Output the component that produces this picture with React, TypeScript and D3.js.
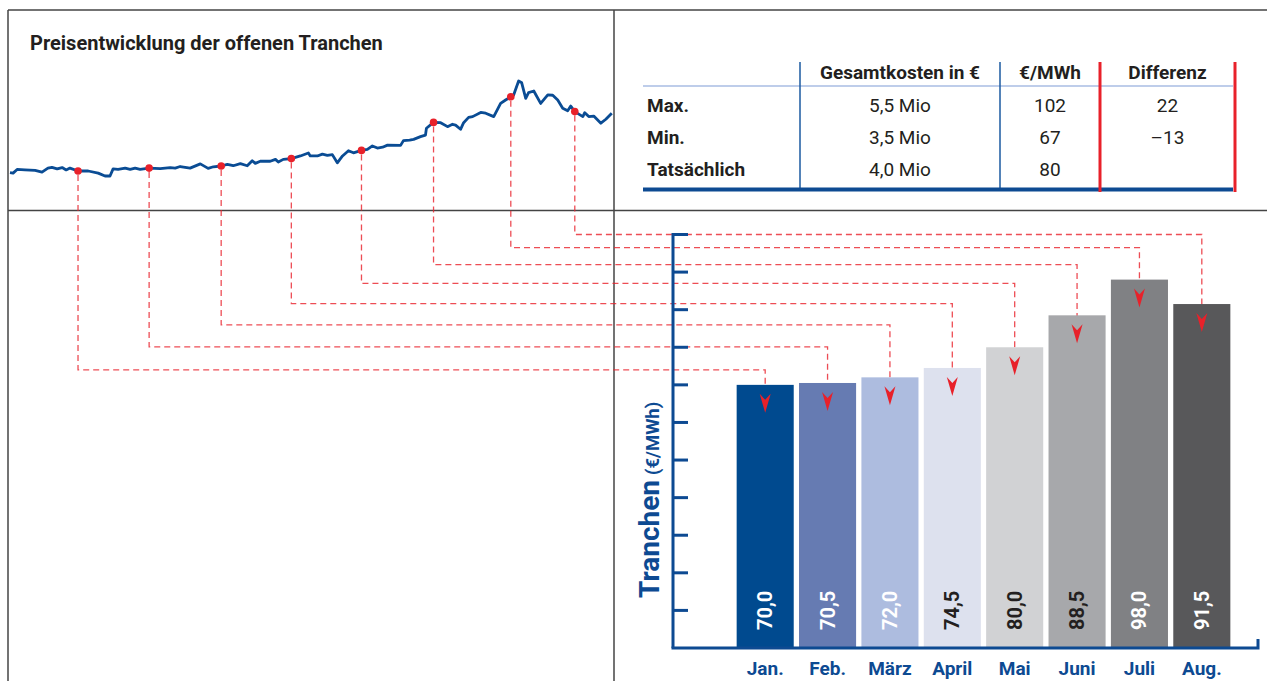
import * as d3 from 'd3';

const WIDTH = 1267;
const HEIGHT = 681;

// bar chart data
const MONTHS = ['Jan.', 'Feb.', 'März', 'April', 'Mai', 'Juni', 'Juli', 'Aug.'];
const TRANCHE_VALUES = [70.0, 70.5, 72.0, 74.5, 80.0, 88.5, 98.0, 91.5];
const Y_TICKS = [10, 20, 30, 40, 50, 60, 70, 80, 90, 100, 110];

// price curve (day, €/MWh)
const PRICE_DAYS = [
  0, 1.3, 3, 6.3, 10.6, 13.5, 16, 17.7, 19.9, 22, 23.7, 25.3, 28.7, 33, 37.2, 40.1, 42.2, 43.5, 45.6, 48.6,
  50.7, 52.8, 54.9, 58.7, 63.4, 67.6, 69.7, 71.8, 76, 80.3, 83.6, 85.8, 89.1, 91.7, 94.2, 97.2, 100.1, 102.2,
  103.5, 105.6, 109.8, 112, 113.2, 115.3, 118.7, 122.5, 125.9, 126.7, 129.7, 131.8, 133.9, 136, 138.1, 140.3,
  142.8, 144.9, 148.3, 150.8, 152.9, 155, 157.2, 159.3, 164.8, 166, 168.6, 170.3, 173.2, 175.3, 175.7, 178.7,
  181.7, 184.6, 186.7, 188, 190.1, 191.4, 193.5, 195.2, 198.6, 200.7, 204.1, 207, 209.1, 211.3, 212.5, 214.6,
  215.9, 217.6, 218.8, 221, 223.9, 226.9, 229, 231.1, 233.2, 235.3, 236.6, 238.3, 241.7, 242.5, 244.2, 246.3,
  249.3, 251.4, 253.9,
];
const PRICE_VALUES = [
  69.4, 69.2, 70.6, 70.4, 70.2, 69.6, 71.1, 71.4, 70.8, 71.3, 70.4, 71.1, 70.0, 70.0, 69.2, 68.1, 68.1, 70.8, 70.6, 71.1,
  70.6, 71.1, 70.6, 71.1, 70.9, 71.3, 71.1, 71.7, 71.1, 72.7, 71.0, 71.6, 71.9, 72.5, 72.0, 72.8, 72.0, 73.9,
  72.9, 73.7, 73.7, 74.4, 73.4, 74.4, 74.7, 75.7, 76.8, 75.7, 75.7, 76.4, 75.9, 76.2, 73.1, 75.7,
  77.7, 76.9, 77.8, 78.2, 79.5, 78.7, 79.0, 79.8, 79.7, 81.5, 81.7, 82.0, 83.0, 83.6, 86.2, 88.4,
  88.3, 86.8, 87.7, 87.4, 85.8, 88.3, 90.3, 90.6, 92.2, 91.9, 90.6, 95.6, 96.9, 98.1, 98.8, 104.1,
  103.4, 97.5, 99.7, 100.3, 95.6, 98.8, 98.7, 96.9, 93.8, 92.8, 94.6, 92.5, 90.6, 92.1, 90.6, 90.8,
  88.1, 89.6, 91.9,
];
const DOT_DAYS = [28.7, 58.7, 89.1, 118.7, 148.3, 178.7, 211.3, 238.3];
const DOT_PRICES = [70.0, 71.1, 71.9, 74.7, 77.8, 88.4, 98.1, 92.5];

// table
const TABLE_COLUMNS = ['Gesamtkosten in €', '€/MWh', 'Differenz'];
const TABLE_ROWS = ['Max.', 'Min.', 'Tatsächlich'];
const TABLE_COSTS = ['5,5 Mio', '3,5 Mio', '4,0 Mio'];
const TABLE_PRICES = ['102', '67', '80'];
const TABLE_DIFFS = ['22', '–13', ''];

const BAR_COLORS = ['#004a8f', '#667bb2', '#adbcdf', '#dde1ee', '#d1d2d4', '#a7a8ab', '#808184', '#58585a'];
const LABEL_COLORS = ['#ffffff', '#ffffff', '#ffffff', '#231f20', '#231f20', '#231f20', '#ffffff', '#ffffff'];

const BLUE = '#0d4a92';
const RED = '#e8212a';
const FRAME = '#444';
const TEXT = '#231f20';
const FONT = "Roboto, 'Noto Sans', sans-serif";

const fmt = (v: number) => d3.format('.1f')(v).replace('.', ',');

export default function App() {
  // line chart scales
  const xLine = d3.scaleLinear().domain([0, 254]).range([10, 612]);
  const yLine = d3.scaleLinear().domain([70, 100]).range([171, 91.8]);
  const pricePts = PRICE_DAYS.map((d, i) => [d, PRICE_VALUES[i]] as [number, number]);
  const linePath =
    d3
      .line<[number, number]>()
      .x((d) => xLine(d[0]))
      .y((d) => yLine(d[1]))(pricePts) ?? '';

  // bar chart scales
  const xBar = d3.scaleBand<string>().domain(MONTHS).range([734, 1233]).paddingInner(0.085).paddingOuter(0.0425);
  const yBar = d3.scaleLinear().domain([0, 110]).range([648, 234.5]);
  const axisX = 673;
  const axisRight = 1258;
  const barCenter = (m: string) => (xBar(m) ?? 0) + xBar.bandwidth() / 2;

  // connector levels: Aug at the top of the axis, Jan lowest
  const levelScale = d3.scalePow().exponent(1.2).domain([0, 7]).range([yBar(110), yBar(74)]);
  const arrowTip = (i: number) => yBar(TRANCHE_VALUES[i]) + 28;

  // table layout
  const colEdges = [800, 1000, 1100, 1235];
  const colCenter = (i: number) => (colEdges[i] + colEdges[i + 1]) / 2;
  const rowY = d3.scaleBand<string>().domain(TABLE_ROWS).range([90, 186]);

  return (
    <svg
      width={WIDTH}
      height={HEIGHT}
      viewBox={`0 0 ${WIDTH} ${HEIGHT}`}
      style={{ position: 'absolute', left: 0, top: 0, background: '#fff' }}
      fontFamily={FONT}
    >
      {/* Frame */}
      <line x1={8} y1={10} x2={WIDTH} y2={10} stroke={FRAME} strokeWidth={1.5} />
      <line x1={8} y1={10} x2={8} y2={HEIGHT} stroke={FRAME} strokeWidth={1.5} />
      <line x1={614} y1={10} x2={614} y2={HEIGHT} stroke={FRAME} strokeWidth={1.5} />
      <line x1={8} y1={210.5} x2={WIDTH} y2={210.5} stroke={FRAME} strokeWidth={1.5} />

      {/* Title */}
      <text x={30} y={50} fontSize={20} fontWeight={700} fill={TEXT}>
        Preisentwicklung der offenen Tranchen
      </text>

      {/* Price line */}
      <path d={linePath} fill="none" stroke="#0a4c94" strokeWidth={2.8} strokeLinejoin="round" />

      {/* Connector dashes: down from dot, across, down to bar */}
      {MONTHS.map((m, i) => {
        const dx = xLine(DOT_DAYS[i]);
        const dy = yLine(DOT_PRICES[i]);
        const level = levelScale(7 - i);
        return (
          <path
            key={m}
            d={`M${dx},${dy + 4}V${level}H${barCenter(m)}V${arrowTip(i) - 13}`}
            fill="none"
            stroke={RED}
            strokeOpacity={0.8}
            strokeWidth={1.3}
            strokeDasharray="6 4"
          />
        );
      })}

      {/* Dots */}
      {DOT_DAYS.map((d, i) => (
        <circle key={i} cx={xLine(d)} cy={yLine(DOT_PRICES[i])} r={3.8} fill={RED} />
      ))}

      {/* Table */}
      <line x1={643} y1={86} x2={1233} y2={86} stroke="#a9bde3" strokeWidth={1.5} />
      {[800, 1000].map((x) => (
        <line key={x} x1={x} y1={62} x2={x} y2={190} stroke="#1b5aa0" strokeWidth={1.5} />
      ))}
      <line x1={643} y1={189.5} x2={1233} y2={189.5} stroke={BLUE} strokeWidth={4} />
      {[1100, 1235].map((x) => (
        <line key={x} x1={x} y1={62} x2={x} y2={192} stroke={RED} strokeWidth={3} />
      ))}
      {TABLE_COLUMNS.map((c, i) => (
        <text key={c} x={colCenter(i)} y={79} textAnchor="middle" fontSize={19} fontWeight={700} fill={TEXT}>
          {c}
        </text>
      ))}
      {TABLE_ROWS.map((r, i) => {
        const y = (rowY(r) ?? 0) + rowY.bandwidth() / 2 + 6;
        return (
          <g key={r} fontSize={19} fill={TEXT}>
            <text x={647} y={y} fontWeight={700}>
              {r}
            </text>
            <text x={colCenter(0)} y={y} textAnchor="middle">
              {TABLE_COSTS[i]}
            </text>
            <text x={colCenter(1)} y={y} textAnchor="middle">
              {TABLE_PRICES[i]}
            </text>
            <text x={colCenter(2)} y={y} textAnchor="middle">
              {TABLE_DIFFS[i]}
            </text>
          </g>
        );
      })}

      {/* Bars */}
      {MONTHS.map((m, i) => (
        <rect
          key={m}
          x={xBar(m)}
          y={yBar(TRANCHE_VALUES[i])}
          width={xBar.bandwidth()}
          height={yBar(0) - yBar(TRANCHE_VALUES[i])}
          fill={BAR_COLORS[i]}
        />
      ))}

      {/* Value labels */}
      {MONTHS.map((m, i) => (
        <text
          key={m}
          transform={`translate(${barCenter(m) + 7},630) rotate(-90)`}
          fontSize={20}
          fontWeight={700}
          fill={LABEL_COLORS[i]}
        >
          {fmt(TRANCHE_VALUES[i])}
        </text>
      ))}

      {/* Arrow heads */}
      {MONTHS.map((m, i) => (
        <path
          key={m}
          transform={`translate(${barCenter(m)},${arrowTip(i)})`}
          d="M0,0L-5.5,-19L0,-13L5.5,-19Z"
          fill={RED}
        />
      ))}

      {/* Axes */}
      <line x1={axisX} y1={yBar(110) - 1.5} x2={axisX} y2={yBar(0)} stroke={BLUE} strokeWidth={3} />
      {Y_TICKS.map((t) => (
        <line key={t} x1={axisX} y1={yBar(t)} x2={axisX + 15} y2={yBar(t)} stroke={BLUE} strokeWidth={3} />
      ))}
      <path
        d={`M${axisX - 1.5},${yBar(0)}H${axisRight}V${yBar(0) - 9}`}
        fill="none"
        stroke={BLUE}
        strokeWidth={3}
      />

      {/* Month labels */}
      {MONTHS.map((m) => (
        <text key={m} x={barCenter(m)} y={675} textAnchor="middle" fontSize={19} fontWeight={700} fill={BLUE}>
          {m}
        </text>
      ))}

      {/* Y axis title */}
      <text transform="translate(659,598) rotate(-90)" fontWeight={700} fill={BLUE}>
        <tspan fontSize={28}>Tranchen</tspan>
        <tspan fontSize={18.5} dx={5}>
          (€/MWh)
        </tspan>
      </text>
    </svg>
  );
}
